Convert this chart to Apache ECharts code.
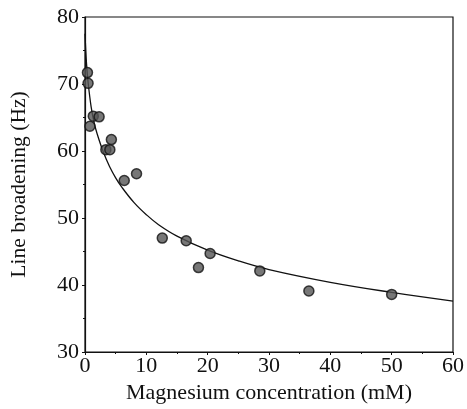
<!DOCTYPE html>
<html>
<head>
<meta charset="utf-8">
<script src="https://cdn.jsdelivr.net/npm/echarts@6/dist/echarts.min.js"></script>
<style>html,body{margin:0;padding:0;background:#fff}#c{width:467px;height:409px}</style>
</head>
<body>
<div id="c"></div>
<script>
// Measured data points (Mg concentration mM, line broadening Hz)
const pointX = [0.4, 0.5, 0.8, 1.35, 2.3, 3.4, 4.05, 4.3, 6.4, 8.4, 12.6, 16.5, 18.5, 20.4, 28.5, 36.5, 50.0];
const pointY = [71.7, 70.1, 63.7, 65.2, 65.1, 60.2, 60.2, 61.7, 55.6, 56.6, 47.0, 46.6, 42.6, 44.7, 42.1, 39.1, 38.6];
// Fitted curve
const curveX = [0, 0.25, 0.5, 1, 1.5, 2, 3, 4, 5, 6, 8, 10, 12, 15, 20, 25, 30, 40, 50, 60];
const curveY = [77.5, 73.0, 70.3, 66.6, 64.2, 62.5, 59.8, 57.7, 56.0, 54.6, 52.3, 50.5, 49.0, 47.3, 45.2, 43.6, 42.3, 40.4, 38.9, 37.6];
const xTicks = [0, 10, 20, 30, 40, 50, 60];
const yTicks = [30, 40, 50, 60, 70, 80];

const font = '"Liberation Serif", "DejaVu Serif", serif';
const chart = echarts.init(document.getElementById('c'), null, {renderer: 'canvas'});
chart.setOption({
  animation: false,
  backgroundColor: '#fff',
  grid: {left: 85, right: 12, top: 17, bottom: 57, show: true, borderColor: '#111', borderWidth: 1.2, containLabel: false},
  xAxis: {
    type: 'value', min: xTicks[0], max: xTicks[xTicks.length - 1], interval: 10,
    name: 'Magnesium concentration (mM)', nameLocation: 'middle', nameGap: 26,
    nameTextStyle: {fontFamily: font, fontSize: 22, color: '#111'},
    axisLine: {lineStyle: {color: '#111', width: 1.2}},
    axisTick: {show: true, inside: false, length: 3, lineStyle: {color: '#111'}},
    minorTick: {show: true, splitNumber: 2, length: 2, lineStyle: {color: '#111'}},
    splitLine: {show: false},
    axisLabel: {fontFamily: font, fontSize: 22, color: '#111', margin: 3},
  },
  yAxis: {
    type: 'value', min: yTicks[0], max: yTicks[yTicks.length - 1], interval: 10,
    name: 'Line broadening (Hz)', nameLocation: 'middle', nameGap: 55,
    nameTextStyle: {fontFamily: font, fontSize: 21.5, color: '#111'},
    axisLine: {show: true, lineStyle: {color: '#111', width: 1.2}},
    axisTick: {show: true, inside: false, length: 3, lineStyle: {color: '#111'}},
    minorTick: {show: true, splitNumber: 2, length: 2, lineStyle: {color: '#111'}},
    splitLine: {show: false},
    axisLabel: {fontFamily: font, fontSize: 22, color: '#111', margin: 6},
  },
  series: [
    {
      type: 'line', data: curveX.map((x, i) => [x, curveY[i]]),
      smooth: 0.4, showSymbol: false, symbol: 'none',
      lineStyle: {color: '#111', width: 1.3}, z: 2
    },
    {
      type: 'scatter', data: pointX.map((x, i) => [x, pointY[i]]),
      symbol: 'circle', symbolSize: 10,
      itemStyle: {color: '#555', borderColor: '#111', borderWidth: 1.5}, z: 3
    }
  ]
});
</script>
</body>
</html>
